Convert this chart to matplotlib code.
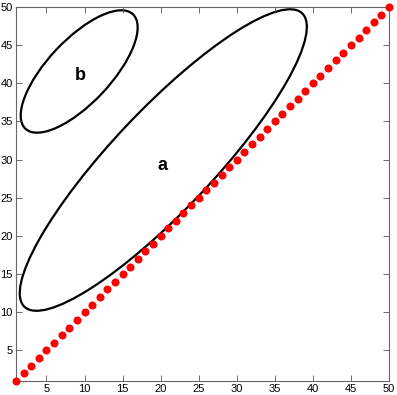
import matplotlib
matplotlib.use("Agg")
import matplotlib.pyplot as plt
from matplotlib.patches import Ellipse

# Data
diag_x = [1, 2, 3, 4, 5, 6, 7, 8, 9, 10, 11, 12, 13, 14, 15, 16, 17, 18, 19, 20,
          21, 22, 23, 24, 25, 26, 27, 28, 29, 30, 31, 32, 33, 34, 35, 36, 37, 38, 39, 40,
          41, 42, 43, 44, 45, 46, 47, 48, 49, 50]
diag_y = [1, 2, 3, 4, 5, 6, 7, 8, 9, 10, 11, 12, 13, 14, 15, 16, 17, 18, 19, 20,
          21, 22, 23, 24, 25, 26, 27, 28, 29, 30, 31, 32, 33, 34, 35, 36, 37, 38, 39, 40,
          41, 42, 43, 44, 45, 46, 47, 48, 49, 50]

ellipse_names = ["a", "b"]
ellipse_centers = [(20.35, 29.95), (9.3, 41.55)]
ellipse_widths = [53.0, 20.6]
ellipse_heights = [13.2, 8.3]
ellipse_angles = [46.5, 46.7]
label_positions = [(20.2, 28.65), (9.5, 40.45)]

ticks = [5, 10, 15, 20, 25, 30, 35, 40, 45, 50]

plt.rcParams['font.family'] = ['Liberation Sans', 'DejaVu Sans']

fig = plt.figure(figsize=(3.97, 3.95), dpi=100)
ax = fig.add_axes([16/397, 14/395, 373/397, 374/395])

for c, w, h, ang in zip(ellipse_centers, ellipse_widths, ellipse_heights, ellipse_angles):
    ax.add_patch(Ellipse(c, w, h, angle=ang, fill=False, edgecolor='black', linewidth=1.6))

for name, pos in zip(ellipse_names, label_positions):
    ax.text(pos[0], pos[1], name, fontsize=13, fontweight='bold', ha='center', va='baseline')

ax.plot(diag_x, diag_y, 'o', color='#ff0000', markersize=5.8, markeredgewidth=0, clip_on=False, zorder=5)

ax.set_xlim(1, 50)
ax.set_ylim(1, 50)
ax.set_xticks(ticks)
ax.set_yticks(ticks)
ax.tick_params(direction='in', length=4, width=0.6, top=True, right=True, labelsize=8, pad=2.5, color='#555555')
for s in ax.spines.values():
    s.set_color('#666666')
    s.set_linewidth(0.8)

fig.savefig("out.png", dpi=100)
